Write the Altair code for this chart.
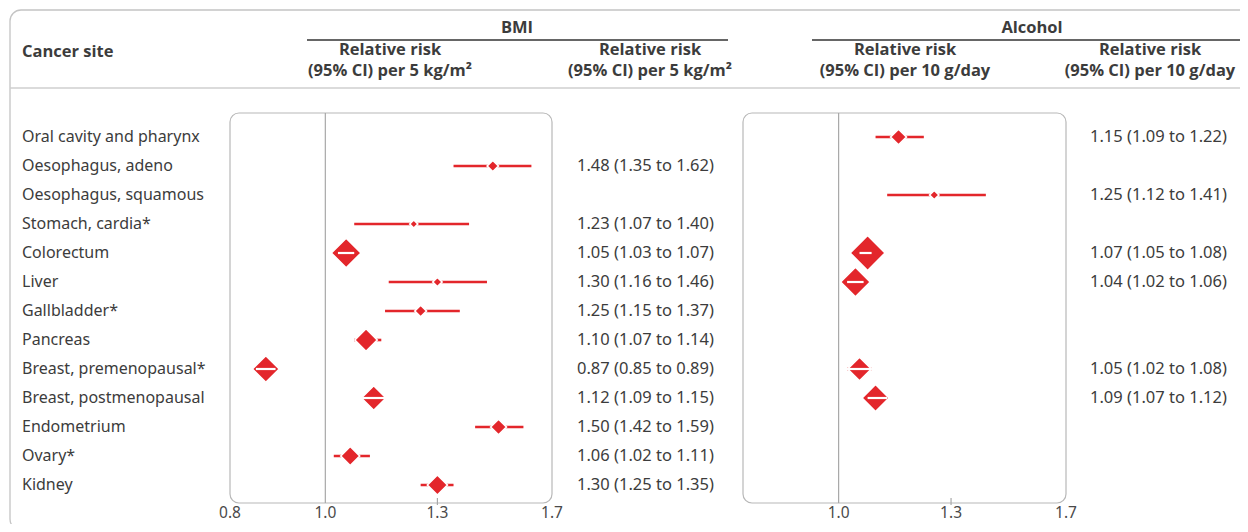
import altair as alt
import pandas as pd

sites = [
    "Oral cavity and pharynx", "Oesophagus, adeno", "Oesophagus, squamous",
    "Stomach, cardia*", "Colorectum", "Liver", "Gallbladder*", "Pancreas",
    "Breast, premenopausal*", "Breast, postmenopausal", "Endometrium",
    "Ovary*", "Kidney",
]
bmi_rr = [None, 1.48, None, 1.23, 1.05, 1.30, 1.25, 1.10, 0.87, 1.12, 1.50, 1.06, 1.30]
bmi_lo = [None, 1.35, None, 1.07, 1.03, 1.16, 1.15, 1.07, 0.85, 1.09, 1.42, 1.02, 1.25]
bmi_hi = [None, 1.62, None, 1.40, 1.07, 1.46, 1.37, 1.14, 0.89, 1.15, 1.59, 1.11, 1.35]
alc_rr = [1.15, None, 1.25, None, 1.07, 1.04, None, None, 1.05, 1.09, None, None, None]
alc_lo = [1.09, None, 1.12, None, 1.05, 1.02, None, None, 1.02, 1.07, None, None, None]
alc_hi = [1.22, None, 1.41, None, 1.08, 1.06, None, None, 1.08, 1.12, None, None, None]
bmi_ticks = [0.8, 1.0, 1.3, 1.7]
alc_ticks = [1.0, 1.3, 1.7]

FONT = "Noto Sans"
HFONT = "Open Sans"
RED = "#e3262b"
TXT = "#3c3c3c"
GRID = "#b8b8b8"
FS = 16


def frame(rr, lo, hi):
    rows = []
    for i, (s, r, l, h) in enumerate(zip(sites, rr, lo, hi)):
        if r is None:
            continue
        rows.append({"site": s, "row": i, "rr": r, "lo": l, "hi": h,
                     "label": f"{r:.2f} ({l:.2f} to {h:.2f})"})
    return pd.DataFrame(rows)


bmi_df = frame(bmi_rr, bmi_lo, bmi_hi)
alc_df = frame(alc_rr, alc_lo, alc_hi)
site_df = pd.DataFrame({"site": sites, "row": list(range(len(sites)))})
one = pd.DataFrame({"k": [0]})

Y = alt.Y("row:Q", scale=alt.Scale(domain=[0, 12], range=[129, 477], nice=False, zero=False), axis=None)


def xscale(rng):
    return alt.Scale(type="log", domain=[0.8, 1.7], range=rng, nice=False)


def panel(df, ticks, rng, text_x):
    sc = xscale(rng)
    box = alt.Chart(one).mark_rect(
        cornerRadius=9, fillOpacity=0, stroke=GRID, strokeWidth=1.2
    ).encode(
        x=alt.X(datum=0.8, type="quantitative", scale=sc, axis=None),
        x2=alt.X2(datum=1.7),
        y=alt.value(105), y2=alt.value(495),
    )
    ref = alt.Chart(one).mark_rule(color="#a8a8a8", strokeWidth=1.2).encode(
        x=alt.X(datum=1.0, type="quantitative", scale=sc, axis=None),
        y=alt.value(105), y2=alt.value(495),
    )
    tick = alt.Chart(one).mark_rule(color="#a8a8a8", strokeWidth=1.2).encode(
        x=alt.X(datum=1.3, type="quantitative", scale=sc, axis=None),
        y=alt.value(490), y2=alt.value(497),
    )
    tdf = pd.DataFrame({"t": ticks})
    tlab = alt.Chart(tdf).mark_text(font=FONT, fontSize=15.5, color="#4a4a4a", baseline="middle").encode(
        x=alt.X("t:Q", scale=sc, axis=None),
        y=alt.value(505),
        text=alt.Text("t:Q", format=".1f"),
    )
    base = alt.Chart(df).transform_calculate(
        prec="1 / log(datum.hi / datum.lo)"
    )
    ci = base.mark_rule(color=RED, strokeWidth=2.6).encode(
        x=alt.X("lo:Q", scale=sc, axis=None), x2="hi:Q", y=Y,
    )
    dia = base.mark_point(shape="diamond", filled=True, fill=RED, opacity=1,
                          stroke="white", strokeWidth=1.6).encode(
        x=alt.X("rr:Q", scale=sc, axis=None), y=Y,
        size=alt.Size("prec:Q", scale=alt.Scale(domain=[4, 35], range=[75, 1200], zero=False), legend=None),
    )
    inner = base.transform_filter("datum.prec > 16.5").mark_rule(color="white", strokeWidth=2.2).encode(
        x=alt.X("lo:Q", scale=sc, axis=None), x2="hi:Q", y=Y,
    )
    lab = alt.Chart(df).mark_text(font=FONT, fontSize=16.5, color=TXT, align="left", baseline="middle").encode(
        x=alt.value(text_x), y=Y, text="label:N",
    )
    return [box, ref, tick, tlab, ci, dia, inner, lab]


def htext(txt, x, y, size=16.5, align="center"):
    return alt.Chart(one).mark_text(
        text=txt, font=HFONT, fontSize=size, fontWeight="bold",
        color=TXT, align=align, baseline="middle",
    ).encode(x=alt.value(x), y=alt.value(y))


def hline(x1, x2, y, color="#333333", w=1.3):
    return alt.Chart(one).mark_rule(color=color, strokeWidth=w).encode(
        x=alt.value(x1), x2=alt.value(x2), y=alt.value(y)
    )


outer = alt.Chart(one).mark_rect(
    cornerRadius=11, fillOpacity=0, stroke="#c4c4c4", strokeWidth=1.3
).encode(x=alt.value(2), x2=alt.value(1300), y=alt.value(2), y2=alt.value(522))

site_labels = alt.Chart(site_df).mark_text(
    font=FONT, fontSize=FS, color=TXT, align="left", baseline="middle"
).encode(x=alt.value(14), y=Y, text="site:N")

layers = [outer, hline(2, 1300, 80, color="#cfcfcf", w=1.5),
          htext("Cancer site", 14, 44, align="left"),
          htext("BMI", 509, 20), hline(299, 720, 32),
          htext("Relative risk", 382, 41.5), htext("(95% CI) per 5 kg/m²", 382, 62.5),
          htext("Relative risk", 642, 41.5), htext("(95% CI) per 5 kg/m²", 642, 62.5),
          htext("Alcohol", 1024, 20), hline(804, 1300, 32),
          htext("Relative risk", 897, 41.5), htext("(95% CI) per 10 g/day", 897, 62.5),
          htext("Relative risk", 1142, 41.5), htext("(95% CI) per 10 g/day", 1142, 62.5),
          site_labels]
layers += panel(bmi_df, bmi_ticks, [222, 544], 569)
layers += panel(alc_df, alc_ticks, [735, 1058], 1082)

chart = alt.layer(*layers).resolve_scale(x="independent", size="independent").properties(
    width=1232, height=516, padding=0,
    autosize=alt.AutoSizeParams(type="none"),
).configure_view(stroke=None)

chart.save("out.html", embed_options={"renderer": "svg", "actions": False})
